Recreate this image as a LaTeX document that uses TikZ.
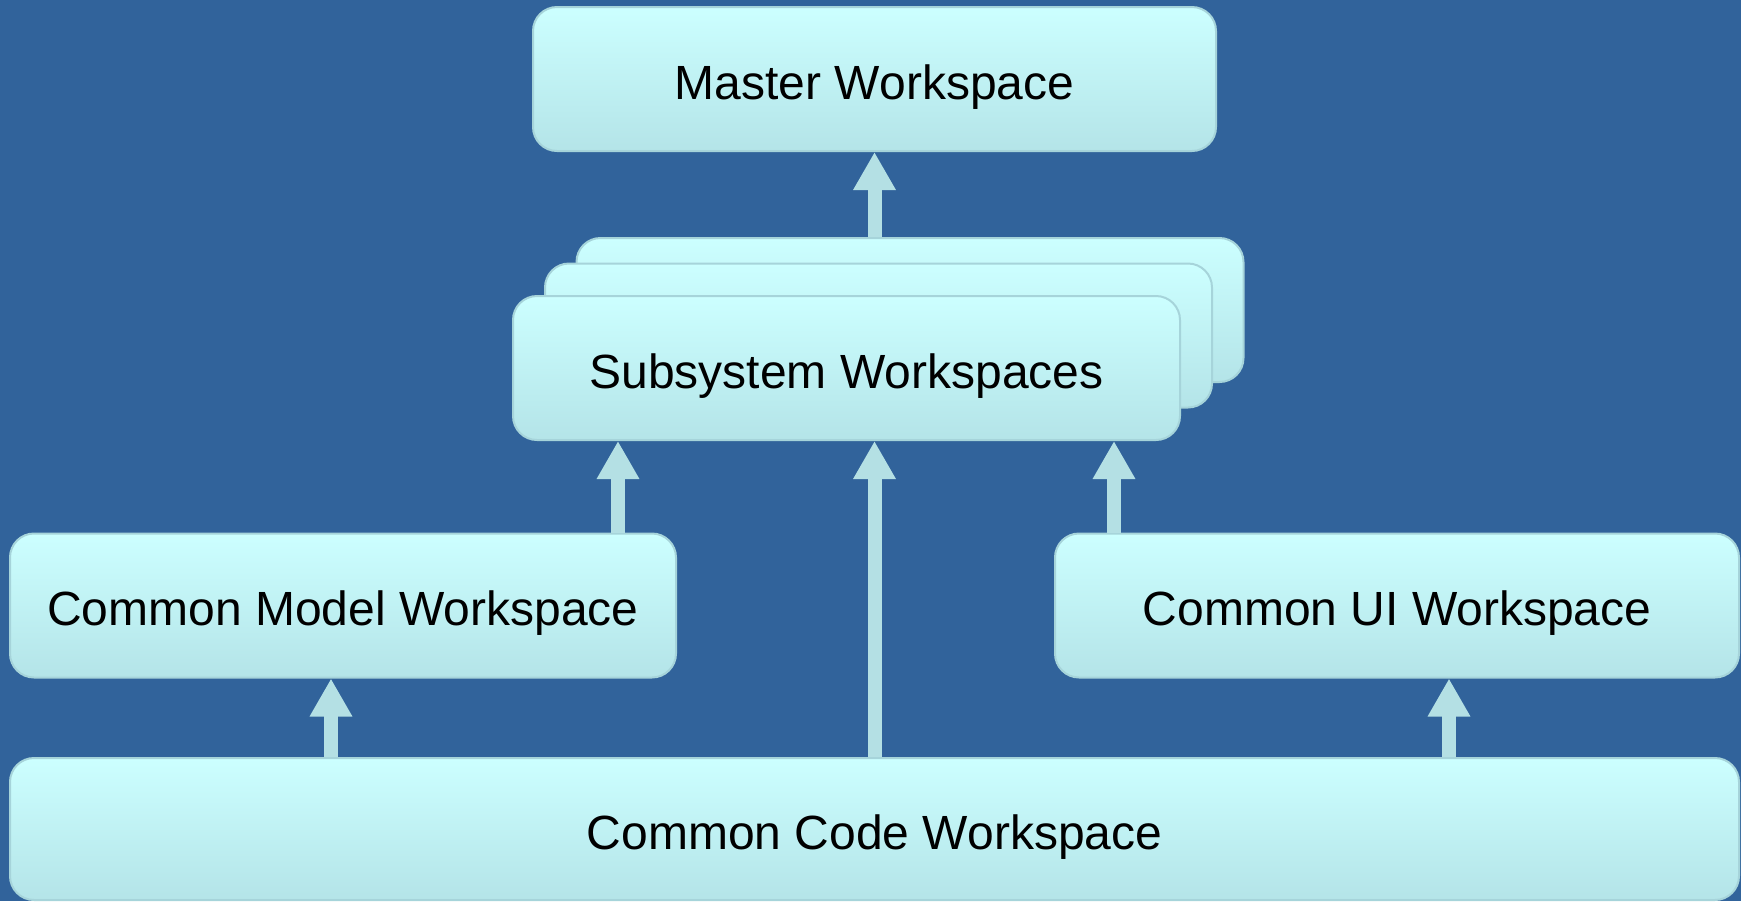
\documentclass[tikz,border=0pt]{standalone}
\usepackage{fontspec}
\setmainfont{Liberation Sans}
\usetikzlibrary{arrows.meta}

\definecolor{bgblue}{RGB}{49,99,155}
\definecolor{boxtop}{RGB}{204,255,255}
\definecolor{boxbot}{RGB}{180,228,232}
\definecolor{boxline}{RGB}{166,212,218}
\definecolor{arrowcol}{RGB}{180,224,228}

\begin{document}
\begin{tikzpicture}[x=0.5pt, y=-0.5pt,
    ws/.style={rectangle, rounded corners=12pt, draw=boxline, line width=1pt,
      top color=boxtop, bottom color=boxbot, minimum height=72pt, inner sep=0pt,
      text height=20pt, text depth=0pt, font=\fontsize{24}{29}\selectfont},
    up/.style={draw=arrowcol, line width=7pt, -{Triangle[width=20pt, length=19pt]}}]
        % background
        \fill[bgblue] (0,0) rectangle (1741,901);

        \node[ws, minimum width=341.5pt]  (master)  at (874.5,79)   {Master Workspace};
        \node[ws, minimum width=333.5pt]  (subback) at (910,310)    {};
        \node[ws, minimum width=333.5pt]  (submid)  at (878.5,335.5) {};
        \node[ws, minimum width=333.5pt]  (sub)     at (846.5,368)  {Subsystem Workspaces};
        \node[ws, minimum width=333pt]    (model)   at (343,605.5)  {Common Model Workspace};
        \node[ws, minimum width=342pt]    (ui)      at (1397,605.5) {Common UI Workspace};
        \node[ws, minimum width=864.5pt, minimum height=71pt] (code) at (874.5,829) {Common Code Workspace};

        % arrow columns
        \coordinate (lm) at (618,0);
        \coordinate (rm) at (1114,0);
        \coordinate (lc) at (331,0);
        \coordinate (rc) at (1449,0);

        \draw[up] (subback.north -| master) -- (master.south);
        \draw[up] (model.north -| lm) -- (sub.south -| lm);
        \draw[up] (code.north) -- (sub.south -| code);
        \draw[up] (ui.north -| rm) -- (sub.south -| rm);
        \draw[up] (code.north -| lc) -- (model.south -| lc);
        \draw[up] (code.north -| rc) -- (ui.south -| rc);
\end{tikzpicture}
\end{document}
